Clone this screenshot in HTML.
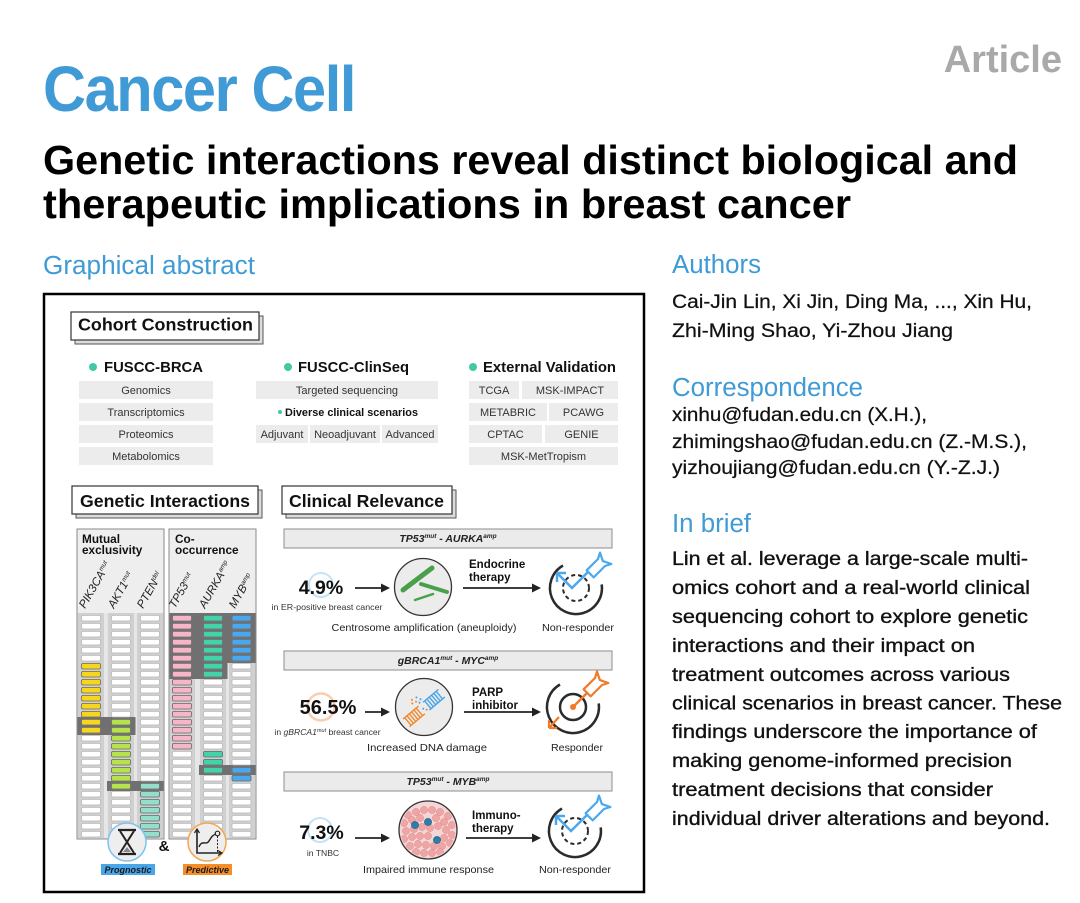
<!DOCTYPE html>
<html><head><meta charset="utf-8"><style>
html,body{margin:0;padding:0;background:#fff;}
svg{display:block;}
</style></head><body>
<svg width="1080" height="903" viewBox="0 0 1080 903" xmlns="http://www.w3.org/2000/svg" font-family="'Liberation Sans', Arial, Helvetica, sans-serif">
<defs>
<pattern id="pw" patternUnits="userSpaceOnUse" x="0" y="615" width="26" height="8"><rect x="3.5" y="0.4" width="19" height="5.6" rx="1.5" fill="#fff" stroke="#b5b5b5" stroke-width="0.7"/></pattern>
<pattern id="py" patternUnits="userSpaceOnUse" x="0" y="615" width="26" height="8"><rect x="3.5" y="0.4" width="19" height="5.6" rx="1.5" fill="#f6d61e" stroke="#6a6a6a" stroke-width="0.8"/></pattern>
<pattern id="pg" patternUnits="userSpaceOnUse" x="0" y="615" width="26" height="8"><rect x="3.5" y="0.4" width="19" height="5.6" rx="1.5" fill="#b6e34c" stroke="#6a6a6a" stroke-width="0.8"/></pattern>
<pattern id="pt" patternUnits="userSpaceOnUse" x="0" y="615" width="26" height="8"><rect x="3.5" y="0.4" width="19" height="5.6" rx="1.5" fill="#93dfcb" stroke="#6a6a6a" stroke-width="0.8"/></pattern>
<pattern id="pp" patternUnits="userSpaceOnUse" x="0" y="615" width="26" height="8"><rect x="3.5" y="0.4" width="19" height="5.6" rx="1.5" fill="#f6b5c9" stroke="#6a6a6a" stroke-width="0.8"/></pattern>
<pattern id="pa" patternUnits="userSpaceOnUse" x="0" y="615" width="26" height="8"><rect x="3.5" y="0.4" width="19" height="5.6" rx="1.5" fill="#42d3ab" stroke="#6a6a6a" stroke-width="0.8"/></pattern>
<pattern id="pb" patternUnits="userSpaceOnUse" x="0" y="615" width="26" height="8"><rect x="3.5" y="0.4" width="19" height="5.6" rx="1.5" fill="#4aa8ef" stroke="#6a6a6a" stroke-width="0.8"/></pattern>
<marker id="ah" markerWidth="9" markerHeight="9" refX="7" refY="4.5" orient="auto" markerUnits="userSpaceOnUse"><path d="M0,0 L9,4.5 L0,9 Z" fill="#222"/></marker>
<clipPath id="cc"><circle cx="428" cy="830" r="27.5"/></clipPath>
</defs>

<!-- Header -->
<text x="43" y="111" font-size="64" font-weight="bold" fill="#3f9ad5" letter-spacing="-1.5" textLength="312" lengthAdjust="spacingAndGlyphs">Cancer Cell</text>
<text x="1062" y="72" text-anchor="end" font-size="38" font-weight="bold" fill="#a9a9a9">Article</text>
<text x="43" y="174" font-size="41" font-weight="bold" fill="#000" textLength="975" lengthAdjust="spacingAndGlyphs">Genetic interactions reveal distinct biological and</text>
<text x="43" y="218" font-size="41" font-weight="bold" fill="#000" textLength="808" lengthAdjust="spacingAndGlyphs">therapeutic implications in breast cancer</text>

<text x="43" y="274" font-size="25.5" fill="#3f9ad5" textLength="212" lengthAdjust="spacingAndGlyphs">Graphical abstract</text>

<!-- Right column -->
<text x="672" y="273" font-size="25.5" fill="#3f9ad5" textLength="89" lengthAdjust="spacingAndGlyphs">Authors</text>
<g font-size="19.5" fill="#111" stroke="#111" stroke-width="0.25">
<text x="672" y="308" textLength="360" lengthAdjust="spacingAndGlyphs">Cai-Jin Lin, Xi Jin, Ding Ma, ..., Xin Hu,</text>
<text x="672" y="337" textLength="281" lengthAdjust="spacingAndGlyphs">Zhi-Ming Shao, Yi-Zhou Jiang</text>
</g>
<text x="672" y="396" font-size="25.5" fill="#3f9ad5" textLength="191" lengthAdjust="spacingAndGlyphs">Correspondence</text>
<g font-size="19.5" fill="#111" stroke="#111" stroke-width="0.25">
<text x="672" y="421" textLength="255" lengthAdjust="spacingAndGlyphs">xinhu@fudan.edu.cn (X.H.),</text>
<text x="672" y="448" textLength="355" lengthAdjust="spacingAndGlyphs">zhimingshao@fudan.edu.cn (Z.-M.S.),</text>
<text x="672" y="474" textLength="328" lengthAdjust="spacingAndGlyphs">yizhoujiang@fudan.edu.cn (Y.-Z.J.)</text>
</g>
<text x="672" y="532" font-size="25.5" fill="#3f9ad5" textLength="79" lengthAdjust="spacingAndGlyphs">In brief</text>
<g font-size="19.5" fill="#111" stroke="#111" stroke-width="0.35">
<text x="672" y="565" textLength="356" lengthAdjust="spacingAndGlyphs">Lin et al. leverage a large-scale multi-</text>
<text x="672" y="594" textLength="358" lengthAdjust="spacingAndGlyphs">omics cohort and a real-world clinical</text>
<text x="672" y="623" textLength="356" lengthAdjust="spacingAndGlyphs">sequencing cohort to explore genetic</text>
<text x="672" y="652" textLength="303" lengthAdjust="spacingAndGlyphs">interactions and their impact on</text>
<text x="672" y="681" textLength="338" lengthAdjust="spacingAndGlyphs">treatment outcomes across various</text>
<text x="672" y="709.5" textLength="390" lengthAdjust="spacingAndGlyphs">clinical scenarios in breast cancer. These</text>
<text x="672" y="738" textLength="365" lengthAdjust="spacingAndGlyphs">findings underscore the importance of</text>
<text x="672" y="767" textLength="340" lengthAdjust="spacingAndGlyphs">making genome-informed precision</text>
<text x="672" y="796" textLength="321" lengthAdjust="spacingAndGlyphs">treatment decisions that consider</text>
<text x="672" y="825" textLength="378" lengthAdjust="spacingAndGlyphs">individual driver alterations and beyond.</text>
</g>

<!-- Graphical abstract frame -->
<rect x="44" y="294" width="600" height="598" fill="#fff" stroke="#000" stroke-width="2.5"/>

<!-- Cohort Construction -->
<rect x="75" y="316" width="188" height="28" fill="#dcdcdc" stroke="#555" stroke-width="1"/>
<rect x="71" y="312" width="188" height="28" fill="#fff" stroke="#333" stroke-width="1.2"/>
<text x="78" y="330.5" font-size="17.5" font-weight="bold" fill="#111" textLength="175" lengthAdjust="spacingAndGlyphs">Cohort Construction</text>

<circle cx="93" cy="367" r="4" fill="#41c9a6"/>
<text x="104" y="372" font-size="14.8" font-weight="bold" fill="#111" textLength="99" lengthAdjust="spacingAndGlyphs">FUSCC-BRCA</text>
<circle cx="288" cy="367" r="4" fill="#41c9a6"/>
<text x="298" y="372" font-size="14.8" font-weight="bold" fill="#111" textLength="111" lengthAdjust="spacingAndGlyphs">FUSCC-ClinSeq</text>
<circle cx="473" cy="367" r="4" fill="#41c9a6"/>
<text x="483" y="372" font-size="14.8" font-weight="bold" fill="#111" textLength="133" lengthAdjust="spacingAndGlyphs">External Validation</text>

<g fill="#ececec">
<rect x="79" y="381" width="134" height="18"/>
<rect x="79" y="403" width="134" height="18"/>
<rect x="79" y="425" width="134" height="18"/>
<rect x="79" y="447" width="134" height="18"/>
<rect x="256" y="381" width="182" height="18"/>
<rect x="256" y="425" width="52" height="18"/>
<rect x="310" y="425" width="70" height="18"/>
<rect x="382" y="425" width="56" height="18"/>
<rect x="469" y="381" width="50" height="18"/>
<rect x="522" y="381" width="96" height="18"/>
<rect x="469" y="403" width="78" height="18"/>
<rect x="549" y="403" width="69" height="18"/>
<rect x="469" y="425" width="73" height="18"/>
<rect x="545" y="425" width="73" height="18"/>
<rect x="469" y="447" width="149" height="18"/>
</g>
<g font-size="11" fill="#333" text-anchor="middle">
<text x="146" y="394">Genomics</text>
<text x="146" y="416">Transcriptomics</text>
<text x="146" y="438">Proteomics</text>
<text x="146" y="460">Metabolomics</text>
<text x="347" y="394">Targeted sequencing</text>
<text x="282" y="438">Adjuvant</text>
<text x="345" y="438">Neoadjuvant</text>
<text x="410" y="438">Advanced</text>
<text x="494" y="394">TCGA</text>
<text x="570" y="394">MSK-IMPACT</text>
<text x="508" y="416">METABRIC</text>
<text x="583.5" y="416">PCAWG</text>
<text x="505.5" y="438">CPTAC</text>
<text x="581.5" y="438">GENIE</text>
<text x="543.5" y="460">MSK-MetTropism</text>
</g>
<circle cx="280" cy="412" r="2" fill="#41c9a6"/>
<text x="285" y="416" font-size="11" font-weight="bold" fill="#111" textLength="133" lengthAdjust="spacingAndGlyphs">Diverse clinical scenarios</text>

<!-- Genetic Interactions -->
<rect x="76" y="490" width="186" height="28" fill="#dcdcdc" stroke="#555" stroke-width="1"/>
<rect x="72" y="486" width="186" height="28" fill="#fff" stroke="#333" stroke-width="1.2"/>
<text x="80" y="507" font-size="17.5" font-weight="bold" fill="#111" textLength="170" lengthAdjust="spacingAndGlyphs">Genetic Interactions</text>

<rect x="77" y="529" width="87" height="310" fill="#eeeeee" stroke="#8a8a8a" stroke-width="1"/>
<rect x="169" y="529" width="87" height="310" fill="#eeeeee" stroke="#8a8a8a" stroke-width="1"/>
<rect x="77.5" y="613" width="86" height="225.5" fill="#e6e6e6"/>
<rect x="169.5" y="613" width="86" height="225.5" fill="#e6e6e6"/>
<g fill="#d0d0d0">
<rect x="78" y="613" width="26" height="225"/>
<rect x="108" y="613" width="26" height="225"/>
<rect x="137" y="613" width="26" height="225"/>
<rect x="170" y="613" width="25" height="225"/>
<rect x="200" y="613" width="26" height="225"/>
<rect x="229" y="613" width="26" height="225"/>
</g>
<!-- dark bands -->
<g fill="#707070">
<rect x="77.5" y="717" width="58" height="18"/>
<rect x="107" y="781" width="56.5" height="10"/>
<rect x="169.5" y="613" width="86" height="50"/>
<rect x="169.5" y="663" width="58" height="16"/>
<rect x="199" y="765" width="56.5" height="10"/>
</g>
<!-- white cells -->
<rect transform="translate(78,0)" x="0" y="615" width="26" height="224" fill="url(#pw)"/>
<rect transform="translate(108,0)" x="0" y="615" width="26" height="224" fill="url(#pw)"/>
<rect transform="translate(137,0)" x="0" y="615" width="26" height="224" fill="url(#pw)"/>
<rect transform="translate(169,0)" x="0" y="615" width="26" height="224" fill="url(#pw)"/>
<rect transform="translate(200,0)" x="0" y="615" width="26" height="224" fill="url(#pw)"/>
<rect transform="translate(228.5,0)" x="0" y="615" width="26" height="224" fill="url(#pw)"/>
<!-- colored cells -->
<rect transform="translate(78,0)" x="0" y="663" width="26" height="72" fill="url(#py)"/>
<rect transform="translate(108,0)" x="0" y="719" width="26" height="72" fill="url(#pg)"/>
<rect transform="translate(137,0)" x="0" y="783" width="26" height="56" fill="url(#pt)"/>
<rect transform="translate(169,0)" x="0" y="615" width="26" height="136" fill="url(#pp)"/>
<rect transform="translate(200,0)" x="0" y="615" width="26" height="64" fill="url(#pa)"/>
<rect transform="translate(200,0)" x="0" y="751" width="26" height="24" fill="url(#pa)"/>
<rect transform="translate(228.5,0)" x="0" y="615" width="26" height="48" fill="url(#pb)"/>
<rect transform="translate(228.5,0)" x="0" y="767" width="26" height="16" fill="url(#pb)"/>

<g font-size="11.8" font-weight="bold" fill="#111">
<text x="82" y="543">Mutual</text>
<text x="82" y="554">exclusivity</text>
<text x="175" y="543">Co-</text>
<text x="175" y="554">occurrence</text>
</g>
<g font-size="11.5" font-style="italic" fill="#222">
<text transform="translate(85,609) rotate(-60)">PIK3CA<tspan font-size="6.5" dy="-4">mut</tspan></text>
<text transform="translate(114,609) rotate(-60)">AKT1<tspan font-size="6.5" dy="-4">mut</tspan></text>
<text transform="translate(143,609) rotate(-60)">PTEN<tspan font-size="6.5" dy="-4">del</tspan></text>
<text transform="translate(175,609) rotate(-60)">TP53<tspan font-size="6.5" dy="-4">mut</tspan></text>
<text transform="translate(205,609) rotate(-60)">AURKA<tspan font-size="6.5" dy="-4">amp</tspan></text>
<text transform="translate(235,609) rotate(-60)">MYB<tspan font-size="6.5" dy="-4">amp</tspan></text>
</g>

<!-- icons bottom -->
<circle cx="127" cy="842" r="19" fill="#eeeeee" stroke="#7cc3f2" stroke-width="1.5"/>
<path d="M118,830 H136 M118,854 H136" stroke="#222" stroke-width="2.2" fill="none"/>
<path d="M120,831 L134,853 M134,831 L120,853" stroke="#222" stroke-width="2" fill="none"/>
<path d="M123,852 L131,852 L127,847 Z" fill="#888"/>
<text x="164" y="851" font-size="15" font-weight="bold" fill="#111" text-anchor="middle">&amp;</text>
<circle cx="207" cy="842" r="19" fill="#eeeeee" stroke="#f4a650" stroke-width="1.5"/>
<path d="M197,830 V853 H221" stroke="#222" stroke-width="1.6" fill="none"/>
<path d="M194.5,833 L197,829 L199.5,833 M218,850.5 L222,853 L218,855.5" stroke="#222" stroke-width="1.2" fill="none"/>
<path d="M199,847 C202,839 206,846 209,841 S213,835 216,834" stroke="#222" stroke-width="1.4" fill="none"/>
<circle cx="217.5" cy="833.5" r="2.3" fill="none" stroke="#222" stroke-width="1.2"/>
<path d="M217.5,836 V852" stroke="#222" stroke-width="1" stroke-dasharray="2 1.5"/>
<rect x="101" y="864" width="54" height="11" fill="#4aa6ea"/>
<text x="128" y="873" font-size="9.5" font-weight="bold" font-style="italic" fill="#1a1a1a" text-anchor="middle" textLength="47" lengthAdjust="spacingAndGlyphs">Prognostic</text>
<rect x="183" y="864" width="49" height="11" fill="#f58d2a"/>
<text x="207.5" y="873" font-size="9.5" font-weight="bold" font-style="italic" fill="#1a1a1a" text-anchor="middle" textLength="43" lengthAdjust="spacingAndGlyphs">Predictive</text>

<!-- Clinical Relevance -->
<rect x="286" y="490" width="170" height="28" fill="#dcdcdc" stroke="#555" stroke-width="1"/>
<rect x="282" y="486" width="170" height="28" fill="#fff" stroke="#333" stroke-width="1.2"/>
<text x="289" y="507" font-size="17.5" font-weight="bold" fill="#111" textLength="155" lengthAdjust="spacingAndGlyphs">Clinical Relevance</text>

<g fill="#ebebeb" stroke="#8c8c8c" stroke-width="1">
<rect x="284" y="529" width="328" height="19"/>
<rect x="284" y="651" width="328" height="19"/>
<rect x="284" y="772" width="328" height="19"/>
</g>
<g font-size="10.5" font-weight="bold" font-style="italic" fill="#222" text-anchor="middle">
<text x="448" y="542">TP53<tspan font-size="6.5" dy="-4">mut</tspan><tspan dy="4"> - AURKA</tspan><tspan font-size="6.5" dy="-4">amp</tspan></text>
<text x="448" y="664">gBRCA1<tspan font-size="6.5" dy="-4">mut</tspan><tspan dy="4"> - MYC</tspan><tspan font-size="6.5" dy="-4">amp</tspan></text>
<text x="448" y="785">TP53<tspan font-size="6.5" dy="-4">mut</tspan><tspan dy="4"> - MYB</tspan><tspan font-size="6.5" dy="-4">amp</tspan></text>
</g>

<!-- Row 1 -->
<circle cx="321" cy="585" r="12" fill="none" stroke="#c4e3f8" stroke-width="2"/>
<text x="321" y="594" font-size="19.5" font-weight="bold" fill="#111" text-anchor="middle">4.9%</text>
<text x="327" y="610" font-size="8.5" fill="#333" text-anchor="middle" textLength="111" lengthAdjust="spacingAndGlyphs">in ER-positive breast cancer</text>
<line x1="355" y1="588" x2="388" y2="588" stroke="#222" stroke-width="1.8" marker-end="url(#ah)"/>
<circle cx="423" cy="587" r="28.5" fill="#ececec" stroke="#333" stroke-width="1.3"/>
<g stroke="#4aa04a" stroke-linecap="round" fill="none">
<line x1="403" y1="590" x2="432" y2="568" stroke-width="5"/>
<line x1="421" y1="584" x2="447" y2="592" stroke-width="4"/>
<line x1="415" y1="600" x2="433" y2="594" stroke-width="2.5"/>
</g>
<text x="469" y="568" font-size="11.5" font-weight="bold" fill="#111">Endocrine</text>
<text x="469" y="581" font-size="11.5" font-weight="bold" fill="#111">therapy</text>
<line x1="463" y1="588" x2="539" y2="588" stroke="#222" stroke-width="1.8" marker-end="url(#ah)"/>
<g transform="translate(576,588)">
<path d="M25.7,-3.6 A26,26 0 1 1 -13,-22.5" fill="none" stroke="#2b2b2b" stroke-width="2.5"/>
<circle r="13" fill="none" stroke="#2b2b2b" stroke-width="2" stroke-dasharray="4 3"/>
<path d="M-19,-15 L-4,0 L14,-18" fill="none" stroke="#4aa8ef" stroke-width="2.5"/>
<path d="M-19,-15 L-10,-15 M-19,-15 L-19,-6" fill="none" stroke="#4aa8ef" stroke-width="2.5"/>
<path d="M10.6,-17.7 L22,-29 L24,-35.4 L26.9,-26.9 L35.4,-24 L29,-22 L17.7,-10.6 Z" fill="#fff" stroke="#4aa8ef" stroke-width="2.2" stroke-linejoin="round"/>
</g>
<text x="424" y="631" font-size="10.5" fill="#222" text-anchor="middle" textLength="185" lengthAdjust="spacingAndGlyphs">Centrosome amplification (aneuploidy)</text>
<text x="578" y="631" font-size="10.5" fill="#222" text-anchor="middle" textLength="72" lengthAdjust="spacingAndGlyphs">Non-responder</text>

<!-- Row 2 -->
<circle cx="321" cy="707" r="13.5" fill="none" stroke="#f9cdb0" stroke-width="2.5"/>
<text x="328" y="714" font-size="20" font-weight="bold" fill="#111" text-anchor="middle">56.5%</text>
<text x="327.5" y="735" font-size="8.6" fill="#333" text-anchor="middle">in <tspan font-style="italic">gBRCA1</tspan><tspan font-style="italic" font-size="5.5" dy="-3">mut</tspan><tspan dy="3"> breast cancer</tspan></text>
<line x1="365" y1="712" x2="388" y2="712" stroke="#222" stroke-width="1.8" marker-end="url(#ah)"/>
<circle cx="424" cy="707" r="28.5" fill="#ececec" stroke="#333" stroke-width="1.3"/>
<g transform="translate(424,708) rotate(-40)">
<path d="M-23,-5H-3 M-23,5H-3 M-21,-5V5 M-18,-5V5 M-15,-5V5 M-12,-5V5 M-9,-5V5 M-6,-5V5" stroke="#f0882e" stroke-width="1.4" fill="none"/>
<path d="M3,-5H23 M3,5H23 M5,-5V5 M8,-5V5 M11,-5V5 M14,-5V5 M17,-5V5 M20,-5V5" stroke="#4aa3e6" stroke-width="1.4" fill="none"/>
<g>
<circle cx="-2" cy="-10" r="1" fill="#f0882e"/><circle cx="1" cy="-13" r="1" fill="#4aa3e6"/>
<circle cx="0" cy="-7" r="1" fill="#4aa3e6"/><circle cx="-4" cy="-14" r="1" fill="#f0882e"/>
<circle cx="3" cy="-9" r="1" fill="#4aa3e6"/><circle cx="-1" cy="0" r="1" fill="#4aa3e6"/>
<circle cx="1" cy="3" r="1" fill="#f0882e"/><circle cx="-6" cy="-11" r="1" fill="#f0882e"/>
</g>
</g>
<text x="472" y="696" font-size="11.5" font-weight="bold" fill="#111">PARP</text>
<text x="472" y="709" font-size="11.5" font-weight="bold" fill="#111">inhibitor</text>
<line x1="464" y1="712" x2="539" y2="712" stroke="#222" stroke-width="1.8" marker-end="url(#ah)"/>
<g transform="translate(573,707)">
<path d="M25.7,-3.6 A26,26 0 1 1 -13,-22.5" fill="none" stroke="#2b2b2b" stroke-width="2.5"/>
<circle r="13" fill="none" stroke="#2b2b2b" stroke-width="2.5"/>
<circle r="3" fill="#f07a2a"/>
<path d="M0,0 L14,-14" fill="none" stroke="#f07a2a" stroke-width="2.5"/>
<path d="M10.6,-17.7 L22,-29 L24,-35.4 L26.9,-26.9 L35.4,-24 L29,-22 L17.7,-10.6 Z" fill="#fff" stroke="#f07a2a" stroke-width="2.2" stroke-linejoin="round"/>
<path d="M-14,10 L-24,21 M-24,21 L-16,21 M-24,21 L-24,13" fill="none" stroke="#f07a2a" stroke-width="2.2"/>
</g>
<text x="427" y="751" font-size="10.5" fill="#222" text-anchor="middle" textLength="120" lengthAdjust="spacingAndGlyphs">Increased DNA damage</text>
<text x="577" y="751" font-size="10.5" fill="#222" text-anchor="middle" textLength="52" lengthAdjust="spacingAndGlyphs">Responder</text>

<!-- Row 3 -->
<circle cx="320" cy="830" r="12" fill="none" stroke="#c4e3f8" stroke-width="2"/>
<text x="321.5" y="839" font-size="19.5" font-weight="bold" fill="#111" text-anchor="middle">7.3%</text>
<text x="323" y="856" font-size="8.6" fill="#333" text-anchor="middle">in TNBC</text>
<line x1="355" y1="838" x2="388" y2="838" stroke="#222" stroke-width="1.8" marker-end="url(#ah)"/>
<circle cx="428" cy="830" r="29" fill="#f3d6d8" stroke="#333" stroke-width="1.3"/>
<g clip-path="url(#cc)" fill="#f0a5a5" stroke="#e08585" stroke-width="0.5">
<circle cx="408" cy="815" r="3.6"/><circle cx="416" cy="812" r="3.6"/><circle cx="424" cy="810" r="3.6"/><circle cx="432" cy="810" r="3.6"/><circle cx="440" cy="812" r="3.6"/><circle cx="448" cy="816" r="3.6"/>
<circle cx="404" cy="823" r="3.6"/><circle cx="412" cy="820" r="3.6"/><circle cx="420" cy="818" r="3.6"/><circle cx="436" cy="818" r="3.6"/><circle cx="444" cy="822" r="3.6"/><circle cx="452" cy="825" r="3.6"/>
<circle cx="406" cy="831" r="3.6"/><circle cx="414" cy="829" r="3.6"/><circle cx="422" cy="827" r="3.6"/><circle cx="430" cy="828" r="3.6"/><circle cx="438" cy="826" r="3.6"/><circle cx="446" cy="830" r="3.6"/>
<circle cx="404" cy="839" r="3.6"/><circle cx="412" cy="837" r="3.6"/><circle cx="420" cy="836" r="3.6"/><circle cx="428" cy="836" r="3.6"/><circle cx="444" cy="838" r="3.6"/><circle cx="452" cy="835" r="3.6"/>
<circle cx="410" cy="846" r="3.6"/><circle cx="418" cy="844" r="3.6"/><circle cx="426" cy="845" r="3.6"/><circle cx="434" cy="846" r="3.6"/><circle cx="442" cy="846" r="3.6"/><circle cx="450" cy="843" r="3.6"/>
<circle cx="416" cy="852" r="3.6"/><circle cx="424" cy="853" r="3.6"/><circle cx="432" cy="853" r="3.6"/><circle cx="440" cy="852" r="3.6"/>
</g>
<g fill="#2a7fa8" stroke="#1b5f80" stroke-width="0.6">
<circle cx="415" cy="825" r="3.6"/><circle cx="428" cy="822" r="3.6"/><circle cx="437" cy="840" r="3.6"/>
</g>
<text x="472" y="819" font-size="11.5" font-weight="bold" fill="#111">Immuno-</text>
<text x="472" y="832" font-size="11.5" font-weight="bold" fill="#111">therapy</text>
<line x1="466" y1="838" x2="539" y2="838" stroke="#222" stroke-width="1.8" marker-end="url(#ah)"/>
<g transform="translate(575,831)">
<path d="M25.7,-3.6 A26,26 0 1 1 -13,-22.5" fill="none" stroke="#2b2b2b" stroke-width="2.5"/>
<circle r="13" fill="none" stroke="#2b2b2b" stroke-width="2" stroke-dasharray="4 3"/>
<path d="M-19,-15 L-4,0 L14,-18" fill="none" stroke="#4aa8ef" stroke-width="2.5"/>
<path d="M-19,-15 L-10,-15 M-19,-15 L-19,-6" fill="none" stroke="#4aa8ef" stroke-width="2.5"/>
<path d="M10.6,-17.7 L22,-29 L24,-35.4 L26.9,-26.9 L35.4,-24 L29,-22 L17.7,-10.6 Z" fill="#fff" stroke="#4aa8ef" stroke-width="2.2" stroke-linejoin="round"/>
</g>
<text x="428.5" y="873" font-size="10.5" fill="#222" text-anchor="middle" textLength="131" lengthAdjust="spacingAndGlyphs">Impaired immune response</text>
<text x="575" y="873" font-size="10.5" fill="#222" text-anchor="middle" textLength="72" lengthAdjust="spacingAndGlyphs">Non-responder</text>
</svg>
</body></html>
